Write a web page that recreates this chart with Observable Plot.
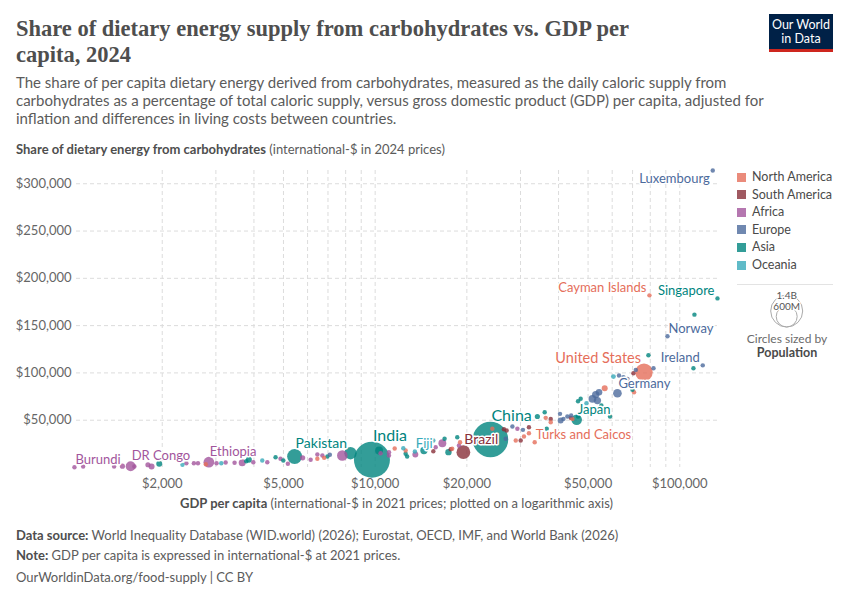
<!DOCTYPE html>
<html>
<head>
<meta charset="utf-8">
<script src="https://cdn.jsdelivr.net/npm/d3@7"></script>
<script src="https://cdn.jsdelivr.net/npm/@observablehq/plot@0.6"></script>
<style>
  body { margin: 0; background: #fff; font-family: Lato, "Noto Sans", sans-serif; }
  #page { position: relative; width: 850px; height: 600px; overflow: hidden; background: #fff; }
  .abs { position: absolute; white-space: nowrap; }
  #title { left: 16px; top: 16px; font-family: "Liberation Serif", "DejaVu Serif", serif; font-weight: 700;
           font-size: 22.5px; line-height: 25.5px; color: #4e4e4e; }
  #subtitle { left: 16px; top: 73px; font-size: 15px; line-height: 18px; color: #5b5b5b; }
  #ytitle { left: 16px; top: 141px; font-size: 13px; line-height: 16px; color: #5b5b5b; }
  #xtitle { left: 0; width: 793px; text-align: center; top: 495px; font-size: 13px; line-height: 16px; color: #5b5b5b; }
  .foot { left: 16px; font-size: 13px; line-height: 16px; color: #5b5b5b; }
  b { font-weight: 700; color: #4e4e4e; }
  #logo { left: 769px; top: 14px; width: 64px; height: 38px; background: #002147; color: #fff;
          font-size: 12.5px; line-height: 14px; text-align: center; box-sizing: border-box; padding-top: 4px;
          border-bottom: 3px solid #ce261e; }
  #chart { left: 0; top: 160px; }
  #chart svg text { paint-order: stroke; }
  .leg { left: 737px; font-size: 12.5px; line-height: 16px; color: #4a4a4a; }
  .sw { display: inline-block; width: 9px; height: 9px; margin-right: 6px; vertical-align: -0.5px; }
</style>
</head>
<body>
<div id="page">
  <div id="title" class="abs">Share of dietary energy supply from carbohydrates vs. GDP per<br>capita, 2024</div>
  <div id="subtitle" class="abs">The share of per capita dietary energy derived from carbohydrates, measured as the daily caloric supply from<br>carbohydrates as a percentage of total caloric supply, versus gross domestic product (GDP) per capita, adjusted for<br>inflation and differences in living costs between countries.</div>
  <div id="ytitle" class="abs"><b>Share of dietary energy from carbohydrates</b> (international-$ in 2024 prices)</div>
  <div id="logo" class="abs">Our World<br>in Data</div>
  <div id="chart" class="abs"></div>
  <div id="legend"></div>
  <div id="xtitle" class="abs"><b>GDP per capita</b> (international-$ in 2021 prices; plotted on a logarithmic axis)</div>
  <div class="abs foot" style="top:527px"><b>Data source:</b> World Inequality Database (WID.world) (2026); Eurostat, OECD, IMF, and World Bank (2026)</div>
  <div class="abs foot" style="top:547px"><b>Note:</b> GDP per capita is expressed in international-$ at 2021 prices.</div>
  <div class="abs foot" style="top:569px">OurWorldinData.org/food-supply | CC BY</div>
</div>
<script>
// Continents and their colours
const regions = ["North America", "South America", "Africa", "Europe", "Asia", "Oceania"];
const palette = ["#E56E5A", "#883039", "#A2559C", "#4C6A9C", "#00847E", "#38AABA"];

// Each row: [GDP per capita, carbohydrate measure, population (millions), label]
const northAmerica = [
  [2780, 3500, 12], [6460, 9200, 10], [6800, 10200, 10], [11590, 20000, 12],
  [12590, 18000, 12], [17900, 19750, 12], [19000, 26700, 12], [24250, 40900, 12],
  [28940, 28500, 10], [30800, 32700, 10], [31980, 36200, 10],
  [33400, 26700, 0.05, "Turks and Caicos"], [36300, 52500, 10], [37700, 47800, 10],
  [44420, 51400, 10], [56700, 83800, 40], [70780, 79500, 10],
  [76300, 100700, 340, "United States"], [79500, 182000, 0.07, "Cayman Islands"]
];
const southAmerica = [
  [15520, 17200, 20], [17700, 19200, 15], [19480, 16200, 212, "Brazil"],
  [26470, 40500, 20], [27020, 39100, 20], [30040, 28500, 15], [31980, 42600, 15],
  [37700, 51400, 15], [43860, 52500, 15], [70460, 99600, 15]
];
const africa = [
  [1030, 300, 13, "Burundi"], [1100, 1100, 5], [1390, 1100, 18], [1480, 1400, 30],
  [1575, 1400, 110, "DR Congo"], [1620, 1100, 20], [1795, 2900, 30], [1845, 1100, 40],
  [2400, 4500, 15], [2540, 4500, 15], [2620, 4500, 15], [2845, 5600, 130, "Ethiopia"],
  [3015, 4500, 15], [3230, 5300, 15], [3455, 5000, 15], [3660, 5000, 55],
  [3980, 5600, 15], [4425, 5600, 20], [4890, 9200, 15], [5170, 3900, 15],
  [5780, 10200, 30], [6140, 8100, 15], [6460, 13700, 15], [6710, 12700, 15],
  [7800, 12700, 125], [10420, 15100, 15], [11100, 16200, 15], [11100, 12700, 15],
  [13550, 13700, 40], [15800, 21400, 15], [16620, 25700, 70], [18840, 23200, 15],
  [29300, 40900, 15]
];
const europe = [
  [7100, 13400, 10], [26820, 30300, 10], [28220, 43300, 10], [30560, 39800, 10],
  [40440, 56700, 10], [40640, 49600, 40], [41500, 51400, 10], [42760, 53900, 10],
  [44000, 55000, 10], [51680, 72600, 68], [52980, 77100, 60], [53660, 70800, 59],
  [54320, 79500, 48], [62420, 78500, 84, "Germany"], [63180, 97200, 10],
  [65320, 95400, 10], [67320, 93700, 10], [71700, 103200, 10], [82000, 104900, 10],
  [91120, 138700, 5.5, "Norway"], [118980, 108000, 5.3, "Ireland"],
  [128340, 314000, 0.67, "Luxembourg"]
];
const asia = [
  [1955, 3900, 40], [3775, 6650, 15], [3850, 8100, 40], [4710, 10900, 15],
  [4995, 7400, 15], [5440, 11600, 250, "Pakistan"], [6970, 11600, 15], [8300, 15100, 170],
  [9760, 8200, 1450, "India"], [10300, 18000, 70], [12590, 14500, 15], [12735, 11600, 15],
  [14460, 18000, 60], [16900, 30300, 15], [17400, 16200, 45], [18600, 32000, 15],
  [23900, 29600, 1420, "China"], [34080, 53900, 30], [36020, 58400, 10], [36580, 40900, 10],
  [46340, 53900, 10], [45880, 50400, 124, "Japan"], [46340, 70000, 10], [47280, 72600, 10],
  [55300, 65500, 10], [59020, 53900, 10], [69920, 82100, 10], [78900, 118700, 10],
  [110880, 104900, 3], [111720, 161600, 3], [132980, 178800, 6, "Singapore"]
];
const oceania = [
  [2330, 2900, 5], [3125, 4500, 10], [4260, 7400, 10], [12370, 20400, 5],
  [13500, 16900, 1, "Fiji"], [15520, 28500, 5], [49380, 67900, 5], [60560, 96100, 27]
];

// Axis ticks and grid
const xTicks = [2000, 5000, 10000, 20000, 50000, 100000];
const xGrid = [2000, 3000, 4000, 5000, 6000, 7000, 8000, 9000, 10000, 20000, 30000, 40000,
               50000, 60000, 70000, 80000, 90000, 100000];
const yTicks = [50000, 100000, 150000, 200000, 250000, 300000];

// Size legend values (population)
const sizeLegend = [{v: 1400, text: "1.4B"}, {v: 600, text: "600M"}];

const series = [northAmerica, southAmerica, africa, europe, asia, oceania];
const table = series.flatMap((rows, i) => rows.map(([gdp, carbs, pop, name]) =>
  ({region: regions[i], gdp, carbs, pop, name})));
const sorted = d3.sort(table, d => -d.pop);

// Smallest circles are kept visible
const MIN_POP = 22;
const R_MAX = 18;
const rScale = d3.scaleSqrt().domain([0, 1450]).range([0, R_MAX]);
const colorOf = r => palette[regions.indexOf(r)];

// Label placement: start = to the right of centre, end = to the left
const labelAnchor = {"United States": "end", "Ireland": "end", "Singapore": "end",
                     "Cayman Islands": "end", "Luxembourg": "end"};
const labelBelow = {"Luxembourg": true};

const labelled = table.filter(d => d.name);
const labelMarks = labelled.map(d => {
  const r = rScale(Math.max(d.pop, MIN_POP));
  const anchor = labelAnchor[d.name] || "start";
  const below = !!labelBelow[d.name];
  const size = d.pop >= 1000 ? 16 : d.pop >= 300 ? 14.5 : d.pop >= 200 ? 14 : 13;
  return Plot.text([d], {
    x: "gdp", y: "carbs", text: "name",
    fill: colorOf(d.region), stroke: "white", strokeWidth: 3,
    fontSize: size, textAnchor: anchor,
    lineAnchor: below ? "top" : "bottom",
    dx: anchor === "start" ? 1 : -3,
    dy: below ? 3.5 : -(r + 1)
  });
});

const chart = Plot.plot({
  width: 850, height: 340,
  marginLeft: 76, marginRight: 133, marginTop: 10, marginBottom: 33,
  style: {fontFamily: "Lato, sans-serif", fontSize: "13px", color: "#666", background: "transparent", overflow: "visible"},
  x: {type: "log", domain: [1046, 133000], ticks: xTicks, tickFormat: d3.format("$,"),
      label: null, tickSize: 0, tickPadding: 11},
  y: {domain: [0, 314000], ticks: yTicks, tickFormat: d3.format("$,"),
      label: null, tickSize: 0, tickPadding: 5},
  r: {type: "sqrt", domain: [0, 1450], range: [0, R_MAX]},
  color: {domain: regions, range: palette},
  marks: [
    Plot.ruleX(xGrid, {stroke: "#dcdcdc", strokeDasharray: "4,3"}),
    Plot.ruleY(yTicks, {stroke: "#dcdcdc", strokeDasharray: "4,3"}),
    Plot.dot(sorted, {x: "gdp", y: "carbs", r: d => Math.max(d.pop, MIN_POP),
                      fill: "region", fillOpacity: 0.8, sort: null}),
    ...labelMarks
  ]
});
document.getElementById("chart").appendChild(chart);

// Colour legend and size legend
const legend = document.getElementById("legend");
regions.forEach((r, i) => {
  const row = document.createElement("div");
  row.className = "abs leg";
  row.style.top = (169 + i * 17.6) + "px";
  row.innerHTML = `<span class="sw" style="background:${palette[i]};opacity:0.8"></span>${r}`;
  legend.appendChild(row);
});
const sep = document.createElement("div");
sep.className = "abs";
Object.assign(sep.style, {left: "737px", top: "284px", width: "96px", height: "1px", background: "#e3e3e3"});
legend.appendChild(sep);

const legR = v => 16 * Math.sqrt(v / 1400);
const svg = d3.select("#legend").append("svg")
  .attr("class", "abs").style("left", "720px").style("top", "285px")
  .attr("width", 130).attr("height", 50);
const baseY = 42;
sizeLegend.forEach(s => {
  svg.append("circle").attr("cx", 66.7).attr("cy", baseY - legR(s.v)).attr("r", legR(s.v))
    .attr("fill", "none").attr("stroke", "#aaa").attr("stroke-width", 1);
});
sizeLegend.forEach(s => {
  svg.append("text").attr("x", 66.7).attr("y", baseY - 2 * legR(s.v) + 1)
    .attr("text-anchor", "middle").attr("dominant-baseline", "middle")
    .attr("font-size", 10).attr("font-family", "Lato, sans-serif").attr("fill", "#555")
    .attr("stroke", "white").attr("stroke-width", 2.5).style("paint-order", "stroke")
    .text(s.text);
});
const cap1 = document.createElement("div");
cap1.className = "abs";
Object.assign(cap1.style, {left: "737px", width: "100px", textAlign: "center", top: "332px",
  fontSize: "12px", lineHeight: "14px", color: "#6b6b6b"});
cap1.textContent = "Circles sized by";
legend.appendChild(cap1);
const cap2 = document.createElement("div");
cap2.className = "abs";
Object.assign(cap2.style, {left: "737px", width: "100px", textAlign: "center", top: "345px",
  fontSize: "12.5px", lineHeight: "15px", color: "#4a4a4a", fontWeight: "700"});
cap2.textContent = "Population";
legend.appendChild(cap2);
</script>
</body>
</html>
